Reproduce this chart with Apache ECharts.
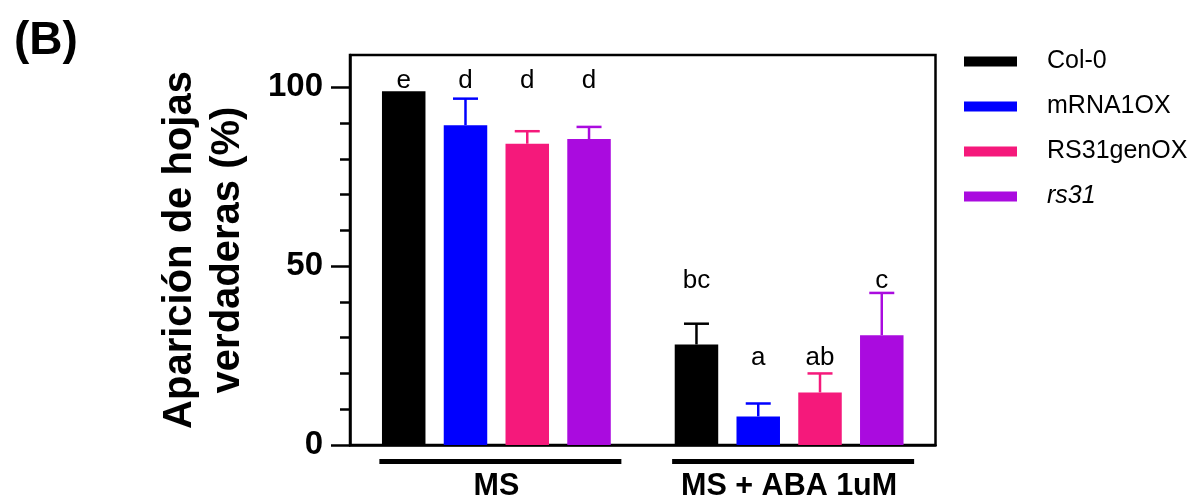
<!DOCTYPE html>
<html>
<head>
<meta charset="utf-8">
<script src="https://cdn.jsdelivr.net/npm/echarts@6/dist/echarts.min.js"></script>
<style>
html,body{margin:0;padding:0;background:#fff;}
#chart{width:1198px;height:502px;}
</style>
</head>
<body>
<div id="chart"></div>
<script>
// ---- data ----
const categories = ['MS', 'MS + ABA 1uM'];
const seriesNames = ['Col-0', 'mRNA1OX', 'RS31genOX', 'rs31'];
const col0 = [98.9, 28.1];
const mrna1ox = [89.4, 8.0];
const rs31genox = [84.2, 14.7];
const rs31 = [85.5, 30.7];
const col0Err = [0, 5.8];
const mrna1oxErr = [7.4, 3.6];
const rs31genoxErr = [3.5, 5.3];
const rs31Err = [3.4, 11.8];
const col0Letters = ['e', 'bc'];
const mrna1oxLetters = ['d', 'a'];
const rs31genoxLetters = ['d', 'ab'];
const rs31Letters = ['d', 'c'];
const letterLevels = [[101.8, 46.0], [101.8, 24.4], [101.8, 24.4], [101.8, 46.0]];
const yLabelTicks = [0, 50, 100];
const yMinorTicks = [0, 10, 20, 30, 40, 50, 60, 70, 80, 90, 100];

// ---- style ----
const colors = ['#000000', '#0000FF', '#F5197B', '#AA0BDF'];
const FONT = "'Liberation Sans', Arial, sans-serif";
const BAR_W = 43.5;
const BAR_GAP = 0.42;
const PITCH = BAR_W * (1 + BAR_GAP);

const values = [col0, mrna1ox, rs31genox, rs31];
const errs = [col0Err, mrna1oxErr, rs31genoxErr, rs31Err];
const letters = [col0Letters, mrna1oxLetters, rs31genoxLetters, rs31Letters];

const barSeries = seriesNames.map((name, s) => ({
  name: name,
  type: 'bar',
  data: values[s],
  barWidth: BAR_W,
  barGap: (BAR_GAP * 100) + '%',
  itemStyle: { color: colors[s] },
  z: 2
}));

const errData = [];
const letterData = [];
values.forEach((vals, s) => {
  vals.forEach((v, g) => {
    errData.push([g, s, v, errs[s][g]]);
    letterData.push([g, s, letterLevels[s][g], letters[s][g]]);
  });
});

const chart = echarts.init(document.getElementById('chart'), null, { renderer: 'canvas' });
chart.setOption({
  animation: false,
  title: {
    text: '(B)', left: 9, top: 13,
    textStyle: { fontFamily: FONT, fontSize: 46, fontWeight: 'bold', color: '#000' }
  },
  legend: {
    orient: 'vertical', left: 964, top: 49, padding: 0,
    data: seriesNames,
    icon: 'rect', itemWidth: 53, itemHeight: 10, itemGap: 20,
    formatter: n => n === 'rs31' ? '{i|' + n + '}' : '{n|' + n + '}',
    textStyle: {
      fontFamily: FONT, fontSize: 25, color: '#000', padding: [0, 0, 0, 25],
      rich: {
        n: { fontFamily: FONT, fontSize: 25, color: '#000' },
        i: { fontFamily: FONT, fontSize: 25, color: '#000', fontStyle: 'italic' }
      }
    }
  },
  grid: {
    left: 350, right: 262.5, top: 55, bottom: 57,
    show: true, borderColor: '#000', borderWidth: 2.5, backgroundColor: 'transparent'
  },
  xAxis: {
    type: 'category', data: categories,
    axisLine: { show: true, lineStyle: { color: '#000', width: 2.5 } },
    axisTick: { show: false },
    axisLabel: {
      margin: 26, color: '#000', fontFamily: FONT, fontSize: 30.5, fontWeight: 'bold'
    }
  },
  yAxis: [{
    type: 'value', min: 0, max: 109, position: 'left',
    name: 'Aparición de hojas\nverdaderas (%)',
    nameLocation: 'middle', nameRotate: 90, nameGap: 98,
    nameTextStyle: { fontFamily: FONT, fontSize: 40, fontWeight: 'bold', color: '#000', lineHeight: 48 },
    splitLine: { show: false },
    axisLine: { show: true, lineStyle: { color: '#000', width: 2.5 } },
    axisTick: { show: true, length: 19, customValues: yLabelTicks, lineStyle: { color: '#000', width: 2.5 } },
    axisLabel: { customValues: yLabelTicks, margin: 27, color: '#000', fontFamily: FONT, fontSize: 33, fontWeight: 'bold' }
  }, {
    type: 'value', min: 0, max: 109, position: 'left', offset: 0,
    splitLine: { show: false },
    axisLine: { show: false },
    axisTick: { show: true, length: 10, customValues: yMinorTicks, lineStyle: { color: '#000', width: 2.5 } },
    axisLabel: { show: false }
  }],
  series: barSeries.concat([
    {
      type: 'custom', name: 'errors', z: 3, silent: true,
      data: errData,
      encode: { x: 0, y: 2 },
      renderItem: (params, api) => {
        const g = api.value(0), s = api.value(1), v = api.value(2), e = api.value(3);
        if (!e) return null;
        const base = api.coord([g, v]);
        const top = api.coord([g, v + e]);
        const x = base[0] + (s - 1.5) * PITCH;
        const style = { stroke: colors[s], lineWidth: 2.5 };
        return {
          type: 'group',
          children: [
            { type: 'line', shape: { x1: x, y1: base[1], x2: x, y2: top[1] }, style: style },
            { type: 'line', shape: { x1: x - 12.5, y1: top[1], x2: x + 12.5, y2: top[1] }, style: style }
          ]
        };
      }
    },
    {
      type: 'custom', name: 'letters', z: 4, silent: true,
      data: letterData,
      encode: { x: 0, y: 2 },
      renderItem: (params, api) => {
        const g = api.value(0), s = api.value(1), y = api.value(2);
        const p = api.coord([g, y]);
        return {
          type: 'text',
          style: {
            x: p[0] + (s - 1.5) * PITCH, y: p[1],
            text: letterData[params.dataIndex][3],
            align: 'center', verticalAlign: 'middle',
            font: '26px ' + FONT, fill: '#000'
          }
        };
      }
    },
    {
      type: 'custom', name: 'groupLines', z: 4, silent: true, clip: false,
      data: categories.map((c, i) => [i, 0]),
      encode: { x: 0, y: 1 },
      renderItem: (params, api) => {
        const p = api.coord([api.value(0), 0]);
        return {
          type: 'rect',
          shape: { x: p[0] + 4 - 121, y: p[1] + 14, width: 242, height: 5 },
          style: { fill: '#000' }
        };
      }
    }
  ])
});
</script>
</body>
</html>
